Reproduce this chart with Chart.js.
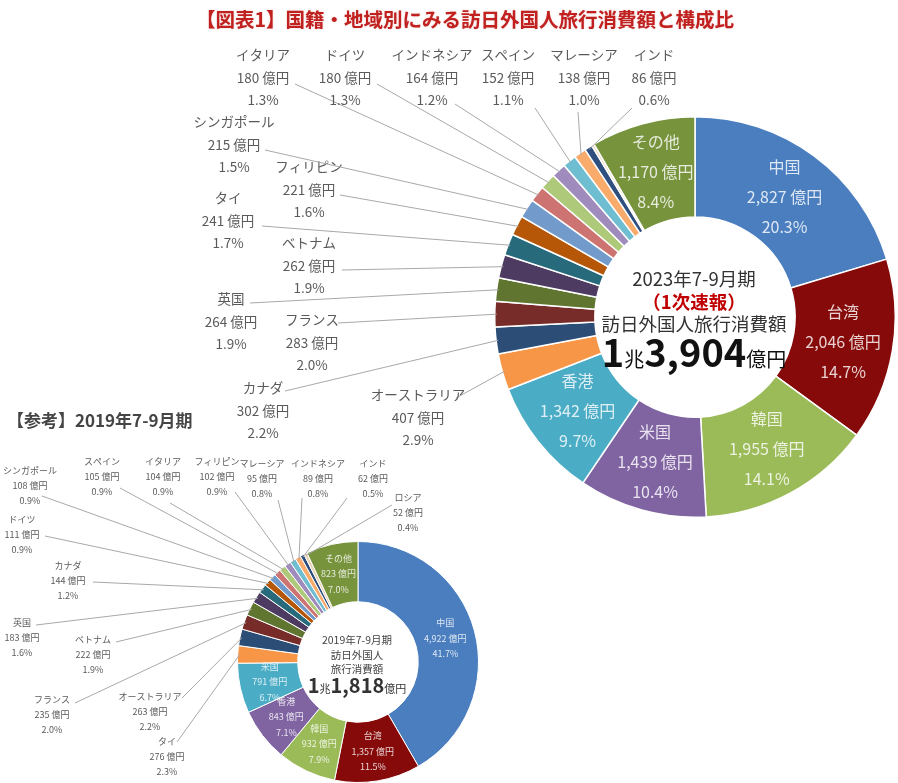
<!DOCTYPE html>
<html lang="ja">
<head>
<meta charset="utf-8">
<title>国籍・地域別にみる訪日外国人旅行消費額と構成比</title>
<script src="https://cdn.jsdelivr.net/npm/chart.js@4.4.1/dist/chart.umd.min.js"></script>
<style>
  html, body { margin: 0; padding: 0; background: #fff; overflow: hidden; }
  body { font-family: "Noto Sans CJK JP", "Noto Sans", sans-serif; }
  #wrap { position: relative; width: 898px; height: 783px; }
  #wrap canvas { position: absolute; left: 0; top: 0; }
  .title {
    position: absolute; left: 465px; top: 4px; transform: translateX(-50%);
    white-space: nowrap; font-size: 19.5px; font-weight: 700; color: #c0211f;
    text-shadow: 0 0 2px rgba(192, 33, 31, 0.25);
  }
  .ref {
    position: absolute; left: 7px; top: 407px; white-space: nowrap;
    font-size: 17px; font-weight: 700; color: #454545;
  }
</style>
</head>
<body>
<div id="wrap">
  <canvas id="chart2023" width="898" height="783"></canvas>
  <canvas id="chart2019" width="898" height="783"></canvas>
  <div class="title">【図表1】国籍・地域別にみる訪日外国人旅行消費額と構成比</div>
  <div class="ref">【参考】2019年7-9月期</div>
</div>
<script>
// 2023年7-9月期（1次速報）, 億円
const countries2023 = ['中国', '台湾', '韓国', '米国', '香港', 'オーストラリア', 'カナダ', 'フランス', '英国', 'ベトナム',
  'タイ', 'フィリピン', 'シンガポール', 'イタリア', 'ドイツ', 'インドネシア', 'スペイン', 'マレーシア', 'インド', 'ロシア', 'その他'];
const spend2023 = [2827, 2046, 1955, 1439, 1342, 407, 302, 283, 264, 262, 241, 221, 215, 180, 180, 164, 152, 138, 86, 30, 1170];
const share2023 = [20.3, 14.7, 14.1, 10.4, 9.7, 2.9, 2.2, 2.0, 1.9, 1.9, 1.7, 1.6, 1.5, 1.3, 1.3, 1.2, 1.1, 1.0, 0.6, 0.2, 8.4];
const total2023 = 13904;

// 2019年7-9月期, 億円
const countries2019 = ['中国', '台湾', '韓国', '香港', '米国', 'タイ', 'オーストラリア', 'フランス', 'ベトナム', '英国',
  'カナダ', 'ドイツ', 'シンガポール', 'スペイン', 'イタリア', 'フィリピン', 'マレーシア', 'インドネシア', 'インド', 'ロシア', 'その他'];
const spend2019 = [4922, 1357, 932, 843, 791, 276, 263, 235, 222, 183, 144, 111, 108, 105, 104, 102, 95, 89, 62, 52, 823];
const share2019 = [41.7, 11.5, 7.9, 7.1, 6.7, 2.3, 2.2, 2.0, 1.9, 1.6, 1.2, 0.9, 0.9, 0.9, 0.9, 0.9, 0.8, 0.8, 0.5, 0.4, 7.0];
const total2019 = 11818;

// slice colours go by position, same for both rings
const palette = ['#4a7ebf', '#860a0a', '#9bbb59', '#8064a2', '#4bacc6', '#f79646', '#2c4d75', '#772c2a', '#5f7530',
  '#4d3b62', '#276a7c', '#b65708', '#729aca', '#cd7371', '#afc97a', '#a08bbd', '#6fbdd1', '#f9ab6b', '#2f4f7f', '#e6d3b3', '#77933c'];

// outside labels: [x, y of first line, leader start x, leader start y]
const outside2023 = {
  5: [418, 395, 456, 398], 6: [263, 388, 285, 391], 7: [312, 320, 338, 323], 8: [231, 299, 250, 303],
  9: [309, 243, 342, 270], 10: [228, 198, 262, 226], 11: [309, 167, 340, 195], 12: [234, 122, 265, 150],
  13: [263, 55, 295, 84], 14: [345, 55, 377, 84], 15: [432, 55, 455, 104], 16: [508, 55, 535, 108],
  17: [584, 55, 578, 112], 18: [654, 55, 632, 108]
};
const outside2019 = {
  5: [167, 742, 177, 742], 6: [150, 697, 182, 698], 7: [52, 700, 75, 703], 8: [93, 640, 116, 642],
  9: [22, 623, 36, 625], 10: [68, 566, 93, 582], 11: [22, 520, 45, 536], 12: [30, 471, 42, 496],
  13: [102, 462, 120, 488], 14: [163, 462, 170, 503], 15: [217, 462, 235, 492], 16: [262, 464, 278, 500],
  17: [318, 464, 302, 498], 18: [373, 464, 347, 498], 19: [408, 498, 392, 505]
};

const FONT = '"Noto Sans CJK JP", "Noto Sans", sans-serif';
const yen = v => v.toLocaleString('en-US') + ' 億円';

const sliceLabels = {
  id: 'sliceLabels',
  afterDatasetsDraw(chart, args, opts) {
    const ctx = chart.ctx;
    const meta = chart.getDatasetMeta(0);
    const names = chart.data.labels;
    const values = chart.data.datasets[0].data;
    ctx.save();
    ctx.textAlign = 'center';
    ctx.textBaseline = 'middle';
    meta.data.forEach((arc, i) => {
      const lines = [names[i], yen(values[i]), opts.shares[i].toFixed(1) + '%'];
      if (opts.inside.includes(i)) {
        const p = arc.tooltipPosition(true);
        ctx.font = opts.insideFont;
        ctx.fillStyle = 'rgba(255,255,255,0.82)';
        lines.forEach((t, k) => ctx.fillText(t, p.x, p.y + (k - 1) * opts.insideGap));
        return;
      }
      const pos = opts.outside[i];
      if (!pos) return;
      const a = arc.getProps(['x', 'y', 'startAngle', 'endAngle', 'outerRadius'], true);
      const mid = (a.startAngle + a.endAngle) / 2;
      const ex = a.x + (a.outerRadius - 2) * Math.cos(mid);
      const ey = a.y + (a.outerRadius - 2) * Math.sin(mid);
      ctx.strokeStyle = '#a8a8a8';
      ctx.lineWidth = 1;
      ctx.beginPath();
      ctx.moveTo(pos[2], pos[3]);
      ctx.lineTo(ex, ey);
      ctx.stroke();
      ctx.font = opts.outsideFont;
      ctx.fillStyle = '#5a5a5a';
      lines.forEach((t, k) => ctx.fillText(t, pos[0], pos[1] + k * opts.outsideGap));
    });
    ctx.restore();
  }
};

// text in the hole; each row is a list of [text, font, colour] pieces
const centerText = {
  id: 'centerText',
  afterDraw(chart, args, opts) {
    const ctx = chart.ctx;
    const arc = chart.getDatasetMeta(0).data[0];
    ctx.save();
    ctx.textBaseline = 'alphabetic';
    ctx.textAlign = 'left';
    opts.rows.forEach(row => {
      let w = 0;
      row.parts.forEach(p => { ctx.font = p[1]; w += ctx.measureText(p[0]).width; });
      let x = arc.x + opts.dx - w / 2;
      row.parts.forEach(p => {
        ctx.font = p[1];
        ctx.fillStyle = p[2];
        ctx.fillText(p[0], x, arc.y + row.dy);
        x += ctx.measureText(p[0]).width;
      });
    });
    ctx.restore();
  }
};

function chou(total) {
  return [Math.floor(total / 10000) + '', (total % 10000).toLocaleString('en-US')];
}

function ring(id, labels, values, shares, pad, cutout, border, labelOpts, rows) {
  return new Chart(document.getElementById(id), {
    type: 'doughnut',
    data: {
      labels: labels,
      datasets: [{
        data: values,
        backgroundColor: palette,
        borderColor: '#ffffff',
        borderWidth: border,
        hoverOffset: 0,
        offset: 0
      }]
    },
    options: {
      responsive: false,
      animation: false,
      cutout: cutout,
      layout: { padding: pad },
      plugins: {
        legend: { display: false },
        tooltip: { enabled: false },
        sliceLabels: Object.assign({ shares: shares }, labelOpts),
        centerText: { dx: -1, rows: rows }
      }
    },
    plugins: [sliceLabels, centerText]
  });
}

const dark = '#333333';
const t23 = chou(total2023);
ring('chart2023', countries2023, spend2023, share2023,
  { left: 494, right: 2, top: 116, bottom: 265 }, '50%', 1.5,
  {
    inside: [0, 1, 2, 3, 4, 20], insideFont: '16px ' + FONT, insideGap: 30,
    outside: outside2023, outsideFont: '13.5px ' + FONT, outsideGap: 22.5
  },
  [
    { dy: -31, parts: [['2023年7-9月期', '18.5px ' + FONT, dark]] },
    { dy: -8, parts: [['（1次速報）', 'bold 18.5px ' + FONT, '#c00000']] },
    { dy: 14, parts: [['訪日外国人旅行消費額', '18.5px ' + FONT, dark]] },
    { dy: 50, parts: [[t23[0], 'bold 38px ' + FONT, '#111'], ['兆', '20px ' + FONT, '#111'],
      [t23[1], 'bold 38px ' + FONT, '#111'], ['億円', '20px ' + FONT, '#111']] }
  ]);

const t19 = chou(total2019);
ring('chart2019', countries2019, spend2019, share2019,
  { left: 237, right: 419, top: 541, bottom: 0 }, '50%', 1,
  {
    inside: [0, 1, 2, 3, 4, 20], insideFont: '9px ' + FONT, insideGap: 15.5,
    outside: outside2019, outsideFont: '9px ' + FONT, outsideGap: 15
  },
  [
    { dy: -18, parts: [['2019年7-9月期', '10.5px ' + FONT, '#444']] },
    { dy: -3, parts: [['訪日外国人', '10.5px ' + FONT, '#444']] },
    { dy: 11, parts: [['旅行消費額', '10.5px ' + FONT, '#444']] },
    { dy: 31, parts: [[t19[0], 'bold 20px ' + FONT, '#333'], ['兆', '11px ' + FONT, '#333'],
      [t19[1], 'bold 20px ' + FONT, '#333'], ['億円', '11px ' + FONT, '#333']] }
  ]);
</script>
</body>
</html>
